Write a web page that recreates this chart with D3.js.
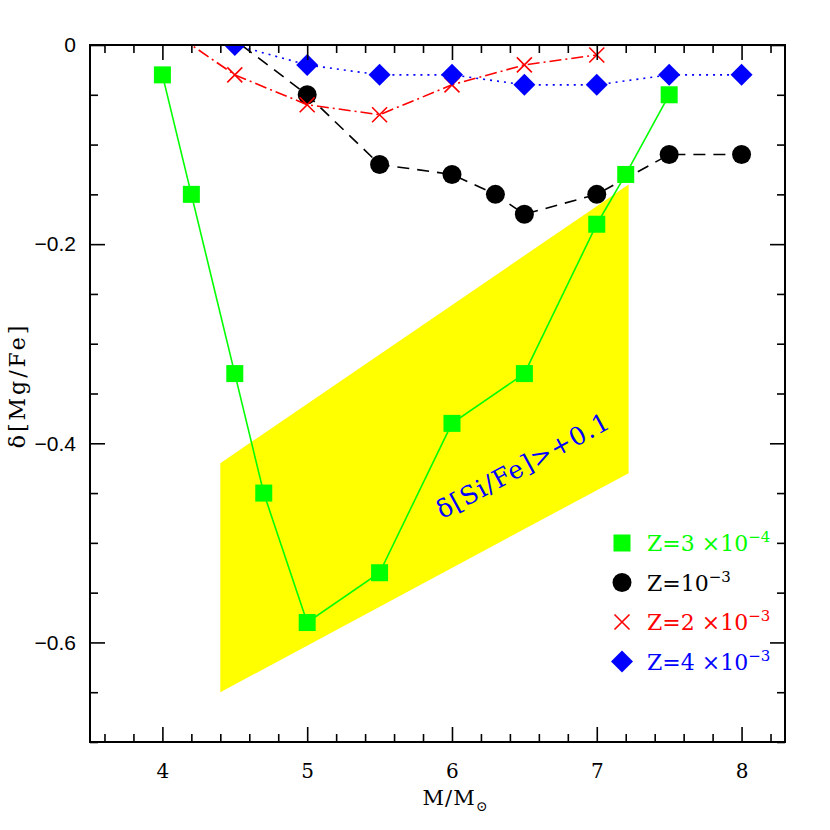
<!DOCTYPE html>
<html>
<head>
<meta charset="utf-8">
<script src="https://cdn.jsdelivr.net/npm/d3@7"></script>
<style>
  body { margin: 0; background: #fff; }
  svg { display: block; }
</style>
</head>
<body>
<div class="c-chart"></div>
<script>
// series (mass, delta[Mg/Fe])
var massZ3e4 = [4, 4.2, 4.5, 4.7, 5, 5.5, 6, 6.5, 7, 7.2, 7.5];
var mgZ3e4 = [-0.03, -0.15, -0.33, -0.45, -0.58, -0.53, -0.38, -0.33, -0.18, -0.13, -0.05];

var massZ1e3 = [4, 5, 5.5, 6, 6.3, 6.5, 7, 7.5, 8];
var mgZ1e3 = [0.06, -0.05, -0.12, -0.13, -0.15, -0.17, -0.15, -0.11, -0.11];

var massZ2e3 = [4, 4.5, 5, 5.5, 6, 6.5, 7];
var mgZ2e3 = [0.02, -0.03, -0.06, -0.07, -0.04, -0.02, -0.01];

var massZ4e3 = [4.5, 5, 5.5, 6, 6.5, 7, 7.5, 8];
var mgZ4e3 = [0, -0.02, -0.03, -0.03, -0.04, -0.04, -0.03, -0.03];

// yellow region where delta[Si/Fe] > +0.1
var regionMass = [4.4, 7.22, 7.22, 4.4];
var regionMg = [-0.42, -0.14, -0.43, -0.65];

var xTicks = [4, 5, 6, 7, 8];
var yTicks = [0, -0.2, -0.4, -0.6];

var legendLabels = [
    { base: "Z=3 \u00d710", sup: "\u22124" },
    { base: "Z=10", sup: "\u22123" },
    { base: "Z=2 \u00d710", sup: "\u22123" },
    { base: "Z=4 \u00d710", sup: "\u22123" }
];

var margin = { top: 45, right: 45, bottom: 88, left: 90 };
var width = 830 - margin.left - margin.right;
var height = 830 - margin.top - margin.bottom;

var serif = "'DejaVu Serif', serif";

var xScale = d3.scaleLinear().domain([3.5, 8.3]).range([0, width]);
var yScale = d3.scaleLinear().domain([-0.7, 0]).range([height, 0]);

function zip(xs, ys) {
    return xs.map(function (x, i) { return { m: x, v: ys[i] }; });
}

var series = [
    { data: zip(massZ1e3, mgZ1e3), color: "#000", dash: "12,8", marker: "circle" },
    { data: zip(massZ3e4, mgZ3e4), color: "#00ff00", dash: null, marker: "square" },
    { data: zip(massZ2e3, mgZ2e3), color: "#ff0000", dash: "12,4,2,4", marker: "cross" },
    { data: zip(massZ4e3, mgZ4e3), color: "#0000ff", dash: "2,5", marker: "diamond" }
];
// legend order differs from draw order
var legendOrder = [1, 0, 2, 3];

var svg = d3.select(".c-chart")
    .append("svg")
    .attr("width", 830)
    .attr("height", 830);

svg.append("rect").attr("width", 830).attr("height", 830).attr("fill", "#fff");

svg.append("defs").append("clipPath").attr("id", "plot-clip")
    .append("rect").attr("width", width).attr("height", height);

var g = svg.append("g")
    .attr("transform", "translate(" + margin.left + "," + margin.top + ")");

var plot = g.append("g").attr("clip-path", "url(#plot-clip)");

var line = d3.line()
    .x(function (d) { return xScale(d.m); })
    .y(function (d) { return yScale(d.v); });

plot.append("path")
    .datum(zip(regionMass, regionMg))
    .attr("fill", "#ffff00")
    .attr("d", line);

function drawMarker(sel, type, color) {
    if (type === "square") {
        sel.append("rect").attr("x", -8.5).attr("y", -8.5).attr("width", 17).attr("height", 17)
            .attr("fill", color);
    } else if (type === "circle") {
        sel.append("circle").attr("r", 9.5).attr("fill", color);
    } else if (type === "diamond") {
        sel.append("path").attr("d", "M0,-11L11,0L0,11L-11,0Z").attr("fill", color);
    } else {
        sel.append("path").attr("d", "M-7.5,-7.5L7.5,7.5M-7.5,7.5L7.5,-7.5")
            .attr("stroke", color).attr("stroke-width", 1.6).attr("fill", "none");
    }
}

series.forEach(function (s) {
    plot.append("path")
        .datum(s.data)
        .attr("fill", "none")
        .attr("stroke", s.color)
        .attr("stroke-width", 1.6)
        .attr("stroke-dasharray", s.dash)
        .attr("d", line);

    plot.selectAll(null)
        .data(s.data)
        .enter()
        .append("g")
        .attr("transform", function (d) { return "translate(" + xScale(d.m) + "," + yScale(d.v) + ")"; })
        .each(function () { drawMarker(d3.select(this), s.marker, s.color); });
});

// rotated region label
g.append("text")
    .attr("transform", "translate(" + xScale(6.52) + "," + yScale(-0.43) + ") rotate(-28.5)")
    .attr("text-anchor", "middle")
    .attr("fill", "#0000ff")
    .style("font-family", serif)
    .style("font-size", "25px")
    .style("letter-spacing", "1px")
    .text("\u03b4[Si/Fe]>+0.1");

// axes with inward ticks on all four sides
var xMinor = d3.range(3.6, 8.3, 0.2).filter(function (v) { return Math.abs(v - Math.round(v)) > 0.01; });
var yMinor = d3.range(-0.7, 0.001, 0.05).filter(function (v) { return Math.abs(v / 0.2 - Math.round(v / 0.2)) > 0.01; });

function tickAxis(axisFn, scale, values, size, labels) {
    var a = axisFn(scale).tickValues(values).tickSizeInner(-size).tickSizeOuter(0).tickPadding(12);
    a.tickFormat(labels ? d3.format("") : "");
    return a;
}

var axes = [
    { fn: d3.axisBottom, s: xScale, t: "translate(0," + height + ")", maj: xTicks, min: xMinor, lab: true, kind: "x" },
    { fn: d3.axisTop, s: xScale, t: "translate(0,0)", maj: xTicks, min: xMinor, lab: false },
    { fn: d3.axisLeft, s: yScale, t: "translate(0,0)", maj: yTicks, min: yMinor, lab: true, kind: "y" },
    { fn: d3.axisRight, s: yScale, t: "translate(" + width + ",0)", maj: yTicks, min: yMinor, lab: false }
];

axes.forEach(function (ax) {
    var gMin = g.append("g").attr("transform", ax.t).call(tickAxis(ax.fn, ax.s, ax.min, 8, false));
    var gMaj = g.append("g").attr("transform", ax.t).call(tickAxis(ax.fn, ax.s, ax.maj, 15, ax.lab));
    [gMin, gMaj].forEach(function (gg) {
        gg.select(".domain").remove();
        gg.selectAll(".tick line").attr("stroke", "#000").attr("stroke-width", 1.6);
    });
    var labels = gMaj.selectAll(".tick text").attr("fill", "#000");
    if (ax.kind === "x") {
        labels.style("font-family", serif).style("font-size", "20px").attr("y", 22);
    } else if (ax.kind === "y") {
        labels.style("font-family", "'Liberation Sans', sans-serif").style("font-size", "21px").attr("x", -14);
    }
});

g.append("rect")
    .attr("width", width).attr("height", height)
    .attr("fill", "none").attr("stroke", "#000").attr("stroke-width", 2);

// axis titles
var xTitle = g.append("text")
    .attr("x", width / 2 + 18)
    .attr("y", height + 63)
    .attr("text-anchor", "middle")
    .style("font-family", serif)
    .style("font-size", "21px")
    .style("letter-spacing", "1px");
xTitle.append("tspan").text("M/M");
xTitle.append("tspan").attr("dy", 6).style("font-size", "14px").text("\u2299");

g.append("text")
    .attr("transform", "translate(" + (-margin.left + 25) + "," + (height / 2 - 8) + ") rotate(-90)")
    .attr("text-anchor", "middle")
    .style("font-family", serif)
    .style("font-size", "22px")
    .style("letter-spacing", "3px")
    .text("\u03b4[Mg/Fe]");

// legend
var legend = g.append("g")
    .attr("transform", "translate(" + (622 - margin.left) + "," + (543 - margin.top) + ")");

legendOrder.forEach(function (si, i) {
    var s = series[si];
    var row = legend.append("g").attr("transform", "translate(0," + (i * 39.5) + ")");
    drawMarker(row, s.marker, s.color);
    var txt = row.append("text")
        .attr("x", 25)
        .attr("y", 8)
        .attr("fill", s.color)
        .style("font-family", serif)
        .style("font-size", "22px");
    txt.append("tspan").text(legendLabels[i].base);
    txt.append("tspan").attr("dy", -9).style("font-size", "15px").text(legendLabels[i].sup);
});
</script>
</body>
</html>
